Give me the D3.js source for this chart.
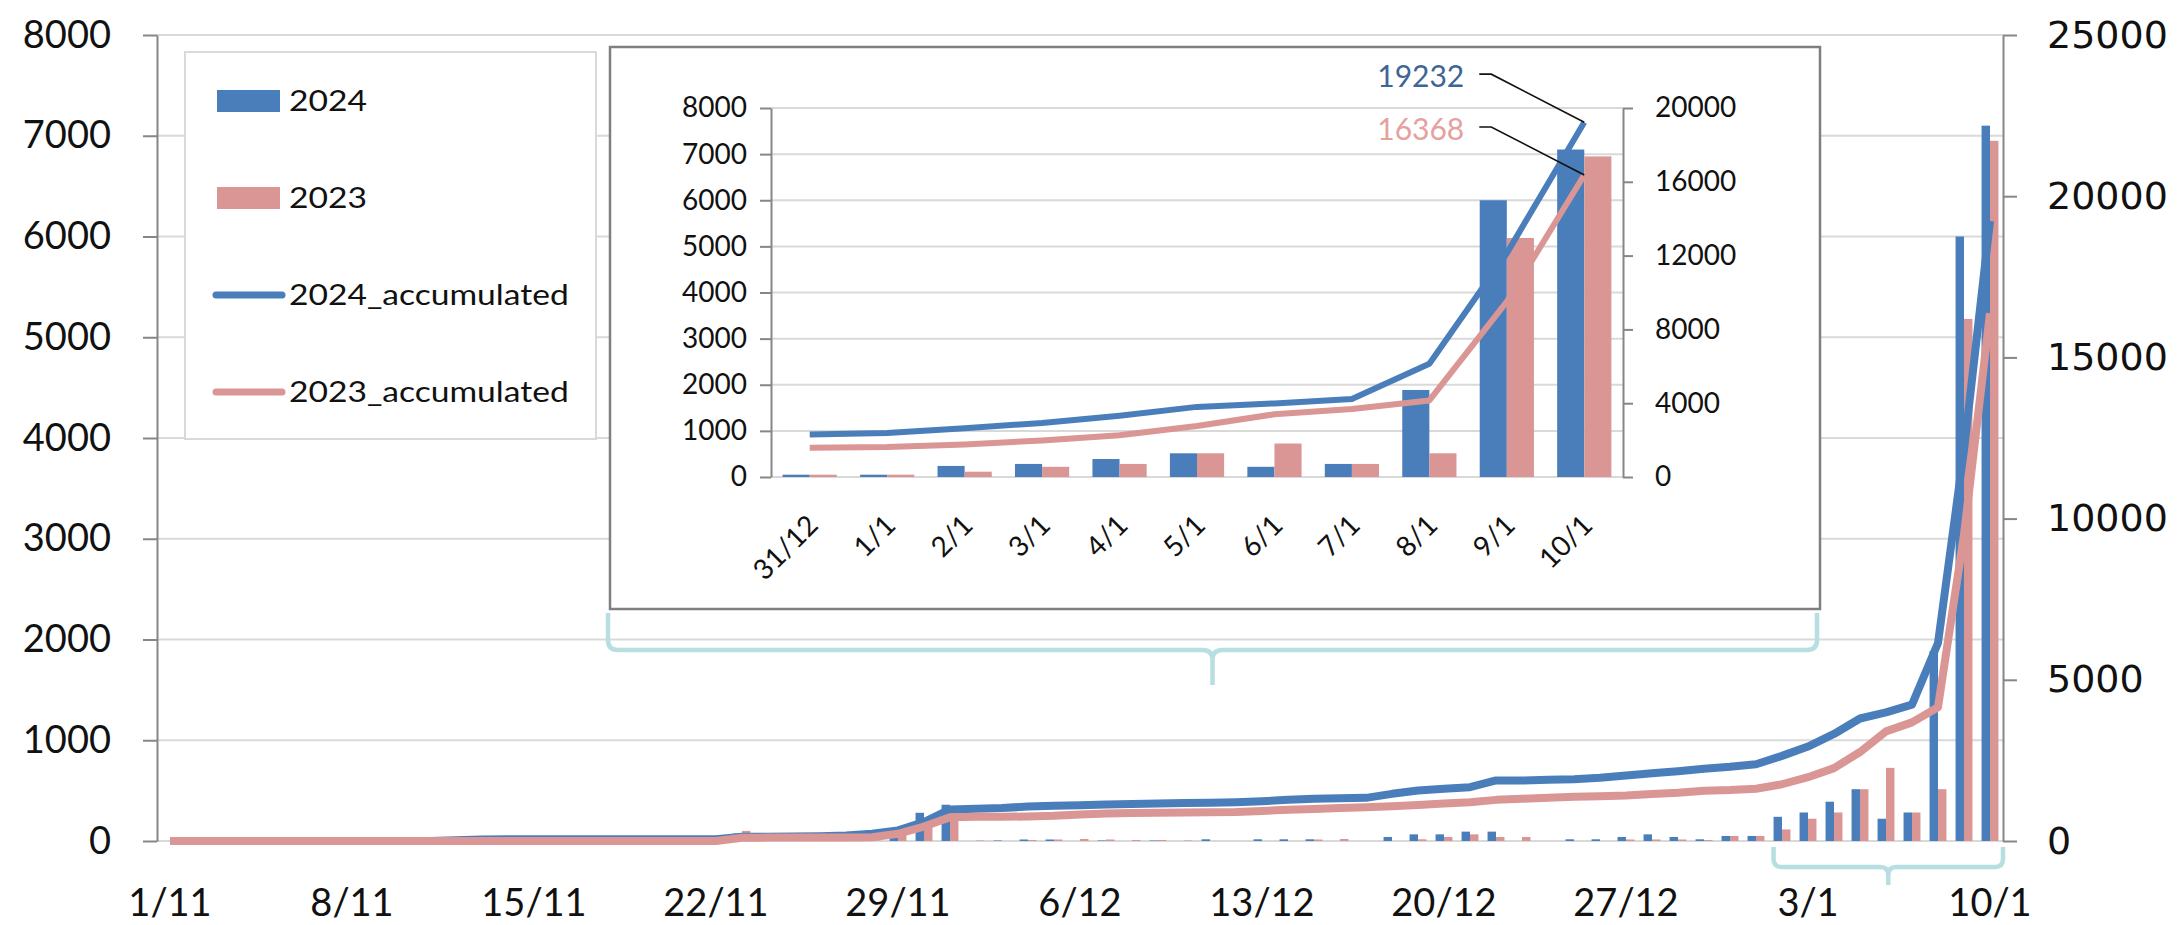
<!DOCTYPE html>
<html><head><meta charset="utf-8">
<script src="https://cdn.jsdelivr.net/npm/d3@7"></script>
<style>
html,body{margin:0;padding:0;background:#fff;}
svg{display:block;}
</style></head><body>
<svg id="chart" width="2177" height="925"></svg>
<script>
// ---------------- DATA ----------------
const categories = [
 "1/11","2/11","3/11","4/11","5/11","6/11","7/11","8/11","9/11","10/11",
 "11/11","12/11","13/11","14/11","15/11","16/11","17/11","18/11","19/11","20/11",
 "21/11","22/11","23/11","24/11","25/11","26/11","27/11","28/11","29/11","30/11",
 "1/12","2/12","3/12","4/12","5/12","6/12","7/12","8/12","9/12","10/12",
 "11/12","12/12","13/12","14/12","15/12","16/12","17/12","18/12","19/12","20/12",
 "21/12","22/12","23/12","24/12","25/12","26/12","27/12","28/12","29/12","30/12",
 "31/12","1/1","2/1","3/1","4/1","5/1","6/1","7/1","8/1","9/1","10/1"];
const series = ["2024","2023"];
const daily2024 = [
 0,0,0,0,0,0,0,0,0,0,0,
 20,30,5,0,0,0,0,0,0,0,
 0,75,5,5,10,20,55,30,280,360,
 0,5,15,15,0,5,0,5,0,17,
 0,17,17,17,0,0,40,66,66,93,
 93,0,0,17,17,40,66,40,17,50,
 50,240,283,390,514,221,283,1887,6000,7100];
const daily2023 = [
 0,0,0,0,0,0,0,0,0,0,0,
 0,0,0,0,0,0,0,0,0,0,
 0,100,5,0,5,0,5,60,200,290,
 5,0,10,15,20,15,10,10,5,0,
 0,0,0,15,20,0,0,17,40,66,
 40,40,0,0,0,15,15,15,10,50,
 50,115,221,283,514,726,283,514,5182,6950];
const acc2024 = [
 0,0,0,0,0,0,0,0,0,0,0,
 20,50,55,55,55,55,55,55,55,55,
 55,130,135,140,150,170,225,330,585,980,
 1000,1020,1070,1090,1110,1130,1150,1165,1175,1185,
 1204,1235,1277,1308,1328,1339,1463,1566,1618,1670,
 1877,1877,1897,1918,1960,2032,2104,2166,2238,2300,
 2380,2640,2930,3320,3800,3990,4230,6140,12130,19232];
const acc2023 = [
 0,0,0,0,0,0,0,0,0,0,0,
 0,0,0,0,0,0,0,0,0,0,
 0,100,105,105,110,110,115,225,448,740,
 750,750,760,780,820,850,870,880,885,890,
 900,930,970,995,1020,1045,1075,1120,1160,1204,
 1276,1310,1345,1370,1390,1411,1460,1500,1560,1580,
 1620,1760,1980,2260,2760,3400,3680,4150,9500,16368];
const leftTicks = [0,1000,2000,3000,4000,5000,6000,7000,8000];
const rightTicks = [0,5000,10000,15000,20000,25000];
const xTickLabels = ["1/11","8/11","15/11","22/11","29/11","6/12","13/12","20/12","27/12","3/1","10/1"];
const legendNames = ["2024","2023","2024_accumulated","2023_accumulated"];
const insetStart = 60;           // inset shows 31/12 .. 10/1
const insetCategories = categories.slice(insetStart);
const insetLeftTicks = [0,1000,2000,3000,4000,5000,6000,7000,8000];
const insetRightTicks = [0,4000,8000,12000,16000,20000];
const annotationValues = [19232, 16368];
const braceStartCategory = "2/1";

// ---------------- STYLE ----------------
const BLUE = "#4a7ebb", PINK = "#d99694";
const colors = {"2024":BLUE, "2023":PINK};
const GRID = "#d9d9d9", AXIS = "#868686", BRACE = "#b7dee0";
const FONT = "Lato, 'Open Sans', sans-serif";
const fmt = d3.format("d");

const svg = d3.select("#chart");
svg.append("rect").attr("width",2177).attr("height",925).attr("fill","#fff");

function stretchX(sel, sx){
  sel.each(function(){
    const t = d3.select(this);
    const x = +t.attr("x") || 0;
    t.attr("x", x/sx).attr("transform", `scale(${sx},1)`);
  });
}

// ---------------- MAIN CHART ----------------
const M = {left:157, right:2003, top:35, bottom:841};
const x = d3.scaleBand().domain(categories).range([M.left, M.right]).paddingInner(0.35).paddingOuter(0.175);
const xs = d3.scaleBand().domain(series).range([0, x.bandwidth()]);
const yL = d3.scaleLinear().domain([0,8000]).range([M.bottom, M.top]);
const yR = d3.scaleLinear().domain([0,25000]).range([M.bottom, M.top]);

svg.append("g").selectAll("line").data(leftTicks).join("line")
  .attr("x1",M.left).attr("x2",M.right)
  .attr("y1",d=>yL(d)).attr("y2",d=>yL(d))
  .attr("stroke",GRID).attr("stroke-width",2);

const rows = categories.map((c,i)=>({c, v:[daily2024[i], daily2023[i]]}));
svg.append("g").selectAll("g").data(rows).join("g")
  .attr("transform",d=>`translate(${x(d.c)},0)`)
  .selectAll("rect").data(d=>series.map((s,k)=>({s, v:d.v[k]}))).join("rect")
  .attr("x",d=>xs(d.s)).attr("width",xs.bandwidth())
  .attr("y",d=>yL(d.v)).attr("height",d=>yL(0)-yL(d.v))
  .attr("fill",d=>colors[d.s]);

const mainLine = d3.line().x((d,i)=>x(categories[i])+x.bandwidth()/2).y(d=>yR(d));
[[acc2024,BLUE],[acc2023,PINK]].forEach(([arr,col])=>{
  svg.append("path").attr("d",mainLine(arr)).attr("fill","none")
    .attr("stroke",col).attr("stroke-width",8).attr("stroke-linejoin","round");
});

function styleAxis(g, family, size){
  g.attr("font-family",family).attr("font-size",size);
  g.select(".domain").attr("stroke",AXIS).attr("stroke-width",2);
  g.selectAll(".tick line").attr("stroke",AXIS).attr("stroke-width",2);
  g.selectAll(".tick text").attr("fill","#111");
}
const axL = svg.append("g").attr("transform",`translate(${M.left},0)`)
  .call(d3.axisLeft(yL).tickValues(leftTicks).tickFormat(fmt).tickSize(14).tickSizeOuter(0).tickPadding(32));
styleAxis(axL, FONT, 38);
const axR = svg.append("g").attr("transform",`translate(${M.right},0)`)
  .call(d3.axisRight(yR).tickValues(rightTicks).tickFormat(fmt).tickSize(14).tickSizeOuter(0).tickPadding(30));
styleAxis(axR, "'DejaVu Sans', Verdana, sans-serif", 38);
const axB = svg.append("g").attr("transform",`translate(0,${M.bottom})`)
  .call(d3.axisBottom(x).tickValues(xTickLabels).tickSize(0).tickPadding(48));
styleAxis(axB, FONT, 38);
axB.select(".domain").remove();

// legend
const LG = {x:185, y:52, w:411, h:387};
svg.append("rect").attr("x",LG.x).attr("y",LG.y).attr("width",LG.w).attr("height",LG.h)
  .attr("fill","#fff").attr("stroke",GRID).attr("stroke-width",2);
const legendColors = [BLUE, PINK, BLUE, PINK];
const lg = svg.append("g").attr("font-family",FONT).attr("font-size",28);
legendNames.forEach((name,k)=>{
  const cy = LG.y + 49 + k*97;
  if(k<2){
    lg.append("rect").attr("x",LG.x+32).attr("y",cy-11).attr("width",63).attr("height",22).attr("fill",legendColors[k]);
  } else {
    lg.append("line").attr("x1",LG.x+31).attr("x2",LG.x+97).attr("y1",cy).attr("y2",cy)
      .attr("stroke",legendColors[k]).attr("stroke-width",7).attr("stroke-linecap","round");
  }
  lg.append("text").attr("class","lgt").attr("x",LG.x+104).attr("y",cy+10).attr("fill","#111").text(name);
});
stretchX(lg.selectAll("text.lgt"), 1.2);

// ---------------- INSET ----------------
const IB = {x:610, y:47, w:1210, h:562};
svg.append("rect").attr("x",IB.x).attr("y",IB.y).attr("width",IB.w).attr("height",IB.h)
  .attr("fill","#fff").attr("stroke","#7f7f7f").attr("stroke-width",2.5);
const I = {left:771, right:1623, top:108, bottom:477};
const xi = d3.scaleBand().domain(insetCategories).range([I.left, I.right]).paddingInner(0.3).paddingOuter(0.15);
const xis = d3.scaleBand().domain(series).range([0, xi.bandwidth()]);
const yiL = d3.scaleLinear().domain([0,8000]).range([I.bottom, I.top]);
const yiR = d3.scaleLinear().domain([0,20000]).range([I.bottom, I.top]);

svg.append("g").selectAll("line").data(insetLeftTicks).join("line")
  .attr("x1",I.left).attr("x2",I.right).attr("y1",d=>yiL(d)).attr("y2",d=>yiL(d))
  .attr("stroke",GRID).attr("stroke-width",2);

const irows = insetCategories.map((c,i)=>({c, v:[daily2024[insetStart+i], daily2023[insetStart+i]]}));
svg.append("g").selectAll("g").data(irows).join("g")
  .attr("transform",d=>`translate(${xi(d.c)},0)`)
  .selectAll("rect").data(d=>series.map((s,k)=>({s, v:d.v[k]}))).join("rect")
  .attr("x",d=>xis(d.s)).attr("width",xis.bandwidth())
  .attr("y",d=>yiL(d.v)).attr("height",d=>yiL(0)-yiL(d.v))
  .attr("fill",d=>colors[d.s]);

const insetLine = d3.line().x((d,i)=>xi(insetCategories[i])+xi.bandwidth()/2).y(d=>yiR(d));
[[acc2024.slice(insetStart),BLUE],[acc2023.slice(insetStart),PINK]].forEach(([arr,col])=>{
  svg.append("path").attr("d",insetLine(arr)).attr("fill","none")
    .attr("stroke",col).attr("stroke-width",6).attr("stroke-linejoin","round");
});

const iaxL = svg.append("g").attr("transform",`translate(${I.left},0)`)
  .call(d3.axisLeft(yiL).tickValues(insetLeftTicks).tickFormat(fmt).tickSize(11).tickSizeOuter(0).tickPadding(13));
styleAxis(iaxL, FONT, 28);
const iaxR = svg.append("g").attr("transform",`translate(${I.right},0)`)
  .call(d3.axisRight(yiR).tickValues(insetRightTicks).tickFormat(fmt).tickSize(10).tickSizeOuter(0).tickPadding(22));
styleAxis(iaxR, FONT, 28);

svg.append("g").attr("font-family",FONT).attr("font-size",28)
  .selectAll("text").data(insetCategories).join("text")
  .attr("transform",d=>`translate(${xi(d)+xi.bandwidth()/2+3},${I.bottom+43}) rotate(-45)`)
  .attr("text-anchor","end").attr("dy","0.35em").attr("fill","#111").text(d=>d);

// annotations
const lastCat = insetCategories[insetCategories.length-1];
const annColors = ["#3d6596", "#e6a0a0"];
annotationValues.forEach((v,k)=>{
  const px = xi(lastCat)+xi.bandwidth()/2, py = yiR(v);
  svg.append("path").attr("d",`M${px-105},${py-48}H${px-93}L${px},${py}`)
    .attr("fill","none").attr("stroke","#111").attr("stroke-width",1.6);
  svg.append("text").attr("x",px-120).attr("y",py-35).attr("text-anchor","end")
    .attr("font-family",FONT).attr("font-size",30).attr("fill",annColors[k]).text(fmt(v));
});

// ---------------- BRACES ----------------
function brace(x0,x1,yTop,yBot,yTip,r){
  const xm=(x0+x1)/2;
  return `M${x0},${yTop}L${x0},${yBot-r}Q${x0},${yBot} ${x0+r},${yBot}L${xm-r},${yBot}Q${xm},${yBot} ${xm},${yBot+r}`+
         `L${xm},${yTip}L${xm},${yBot+r}Q${xm},${yBot} ${xm+r},${yBot}L${x1-r},${yBot}Q${x1},${yBot} ${x1},${yBot-r}L${x1},${yTop}`;
}
svg.append("path").attr("d",brace(IB.x-2, IB.x+IB.w-3, IB.y+IB.h+4, IB.y+IB.h+41, IB.y+IB.h+76, 10))
  .attr("fill","none").attr("stroke",BRACE).attr("stroke-width",4.5);
svg.append("path").attr("d",brace(x(braceStartCategory), M.right, M.bottom+6, M.bottom+26, M.bottom+44, 8))
  .attr("fill","none").attr("stroke",BRACE).attr("stroke-width",4.5);
</script>
</body></html>
